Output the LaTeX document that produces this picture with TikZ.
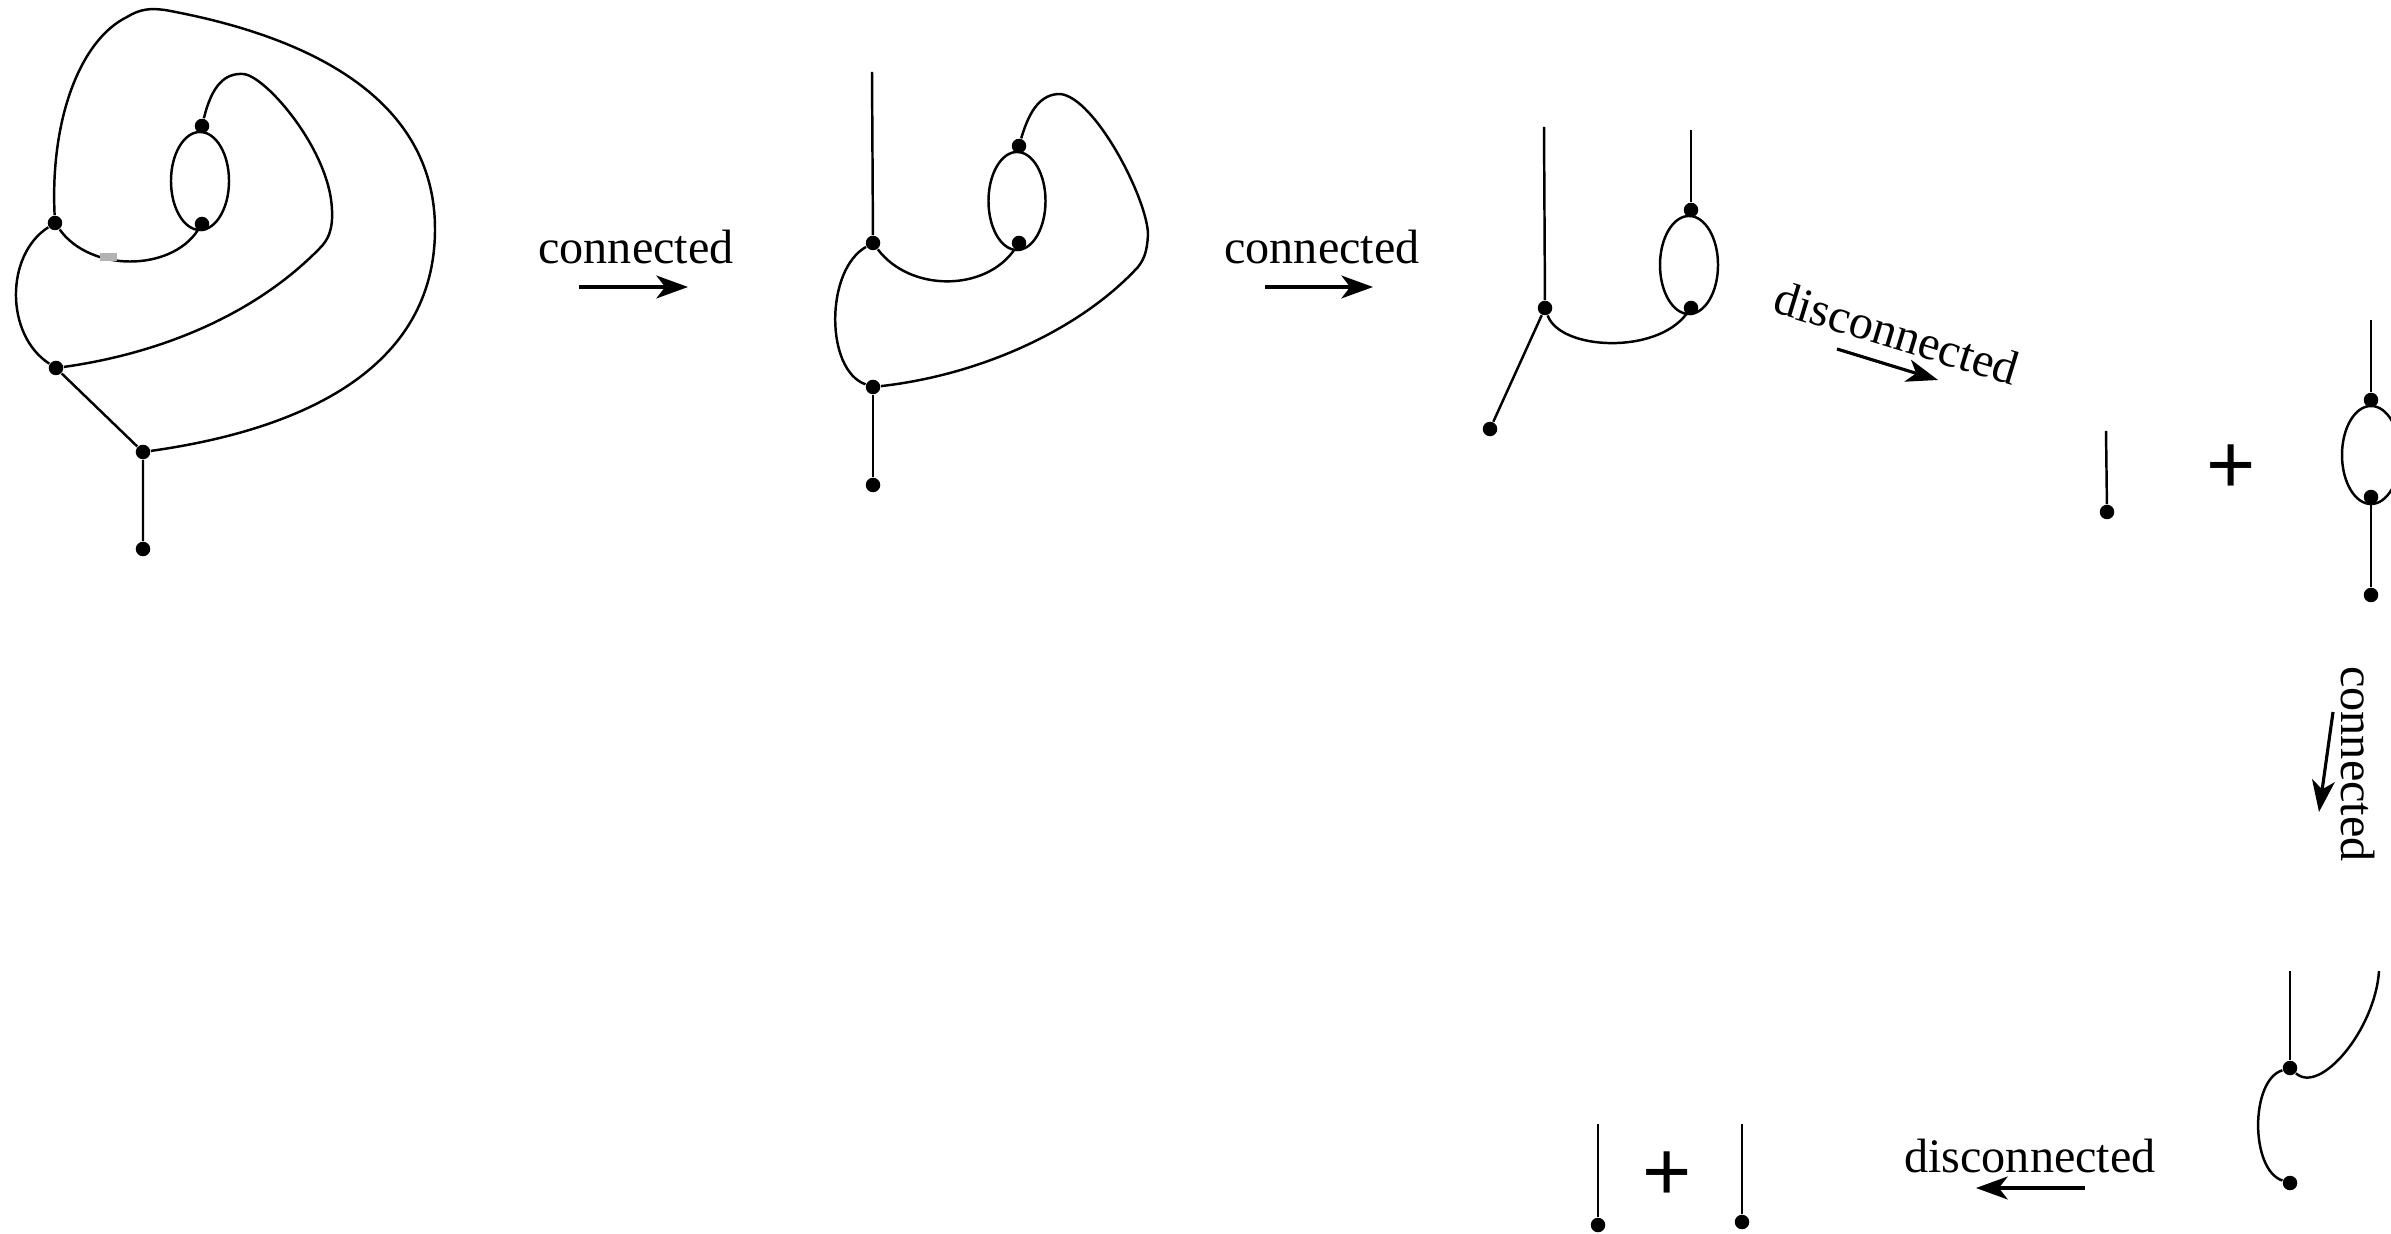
\documentclass[tikz,border=0pt]{standalone}
\usepackage{fontspec}
\setmainfont{Liberation Serif}
\newfontfamily\plusfont{Liberation Sans}
\usetikzlibrary{arrows.meta}
\begin{document}
\begin{tikzpicture}[x=0.01cm,y=-0.01cm,
  edge/.style={line width=0.7pt},
  dot/.style={circle,fill=black,inner sep=0pt,minimum size=0.145cm},
  lbl/.style={font=\fontsize{13.7}{16}\selectfont,inner sep=0pt},
  plussign/.style={font=\plusfont\fontsize{24}{24}\selectfont,inner sep=0pt},
  steparrow/.style={line width=0.9pt,-{Stealth[length=9pt,width=6.5pt,inset=2.5pt]}},
  oval/.style={line width=0.7pt}]
\clip (0,0) rectangle (2391,1234);
\fill[white] (0,0) rectangle (2391,1234);

% ---------- graph 1 ----------
\node[dot] (a1) at (55,223) {};
\node[dot] (b1) at (202,126) {};
\node[dot] (c1) at (202,224) {};
\node[dot] (e1) at (56,368) {};
\node[dot] (d1) at (143,452) {};
\node[dot] (f1) at (143,549) {};
\coordinate (o1) at (200,181);
\draw[oval] (o1) ellipse [x radius=0.29cm, y radius=0.49cm];
\draw[edge] (a1) .. controls (50,120) and (80,40) .. (127,17) .. controls (140,9) and (150,8) .. (165,10) .. controls (330,40) and (435,110) .. (435,229) .. controls (435,370) and (300,430) .. (d1);
\draw[edge] (b1) .. controls (212,85) and (225,73) .. (243,74) .. controls (265,75) and (330,150) .. (332,210) .. controls (333,230) and (328,240) .. (320,248) .. controls (250,320) and (150,355) .. (e1);
\draw[edge] (a1) .. controls (90,272) and (170,272) .. (c1);
\draw[edge] (a1) .. controls (5,255) and (5,335) .. (e1);
\draw[edge] (e1) -- (d1) -- (f1);
\fill[gray!60] (100,253) rectangle (117,261);

% arrow 1
\coordinate (s1) at (579,287);
\coordinate (s1e) at (688,287);
\draw[steparrow] (s1) -- (s1e);
\node[lbl,anchor=base] (l1) at (636,264) {connected};

% ---------- graph 2 ----------
\coordinate (t2) at (872,72);
\node[dot] (a2) at (873,243) {};
\node[dot] (b2) at (1019,146) {};
\node[dot] (c2) at (1019,243) {};
\node[dot] (d2) at (873,387) {};
\node[dot] (f2) at (873,485) {};
\coordinate (o2) at (1017,201);
\draw[oval] (o2) ellipse [x radius=0.285cm, y radius=0.49cm];
\draw[edge] (t2) -- (a2);
\draw[edge] (b2) .. controls (1030,108) and (1042,94) .. (1060,94) .. controls (1095,97) and (1148,200) .. (1148,235) .. controls (1147,250) and (1145,258) .. (1138,267) .. controls (1080,330) and (980,375) .. (d2);
\draw[edge] (a2) .. controls (910,292) and (985,292) .. (c2);
\draw[edge] (a2) .. controls (825,270) and (825,370) .. (d2);
\draw[edge] (d2) -- (f2);

% arrow 2
\coordinate (s2) at (1265,287);
\coordinate (s2e) at (1373,287);
\draw[steparrow] (s2) -- (s2e);
\node[lbl,anchor=base] (l2) at (1322,264) {connected};

% ---------- graph 3 ----------
\coordinate (t3a) at (1544,127);
\coordinate (t3b) at (1691,130);
\node[dot] (a3) at (1545,308) {};
\node[dot] (b3) at (1691,210) {};
\node[dot] (c3) at (1691,308) {};
\node[dot] (f3) at (1490,429) {};
\coordinate (o3) at (1689,265);
\draw[oval] (o3) ellipse [x radius=0.29cm, y radius=0.49cm];
\draw[edge] (t3a) -- (a3);
\draw[edge] (t3b) -- (b3);
\draw[edge] (a3) -- (f3);
\draw[edge] (a3) .. controls (1560,350) and (1655,355) .. (c3);

% arrow 3 (diagonal)
\coordinate (s3) at (1837,349);
\coordinate (s3e) at (1938,380);
\draw[steparrow] (s3) -- (s3e);
\node[lbl,rotate=-17] (l3) at (1897,333) {disconnected};

% ---------- graph 4 ----------
\coordinate (t4a) at (2106,431);
\node[dot] (g4) at (2107,512) {};
\draw[edge] (t4a) -- (g4);
\node[plussign] (pl1) at (2231,469) {+};
\coordinate (t4b) at (2371,320);
\node[dot] (b4) at (2371,400) {};
\node[dot] (c4) at (2371,497) {};
\node[dot] (f4) at (2371,595) {};
\coordinate (o4) at (2371,455);
\draw[oval] (o4) ellipse [x radius=0.29cm, y radius=0.49cm];
\draw[edge] (t4b) -- (b4);
\draw[edge] (c4) -- (f4);

% arrow 4 (vertical)
\coordinate (s4) at (2333,712);
\coordinate (s4e) at (2319,812);
\draw[steparrow] (s4) -- (s4e);
\node[lbl,rotate=-90] (l4) at (2358,764) {connected};

% ---------- graph 5 ----------
\coordinate (t5a) at (2290,971);
\coordinate (t5b) at (2379,971);
\node[dot] (v5) at (2290,1068) {};
\node[dot] (f5) at (2290,1183) {};
\draw[edge] (t5a) -- (v5);
\draw[edge] (t5b) .. controls (2375,1030) and (2320,1095) .. (v5);
\draw[edge] (v5) .. controls (2250,1080) and (2250,1170) .. (f5);

% arrow 5
\coordinate (s5) at (2085,1188);
\coordinate (s5e) at (1976,1188);
\draw[steparrow] (s5) -- (s5e);
\node[lbl,anchor=base] (l5) at (2030,1172) {disconnected};

% ---------- graph 6 ----------
\coordinate (t6a) at (1598,1124);
\node[dot] (g6) at (1598,1225) {};
\draw[edge] (t6a) -- (g6);
\node[plussign] (pl2) at (1667,1176) {+};
\coordinate (t6b) at (1742,1124);
\node[dot] (h6) at (1742,1222) {};
\draw[edge] (t6b) -- (h6);
\end{tikzpicture}
\end{document}
